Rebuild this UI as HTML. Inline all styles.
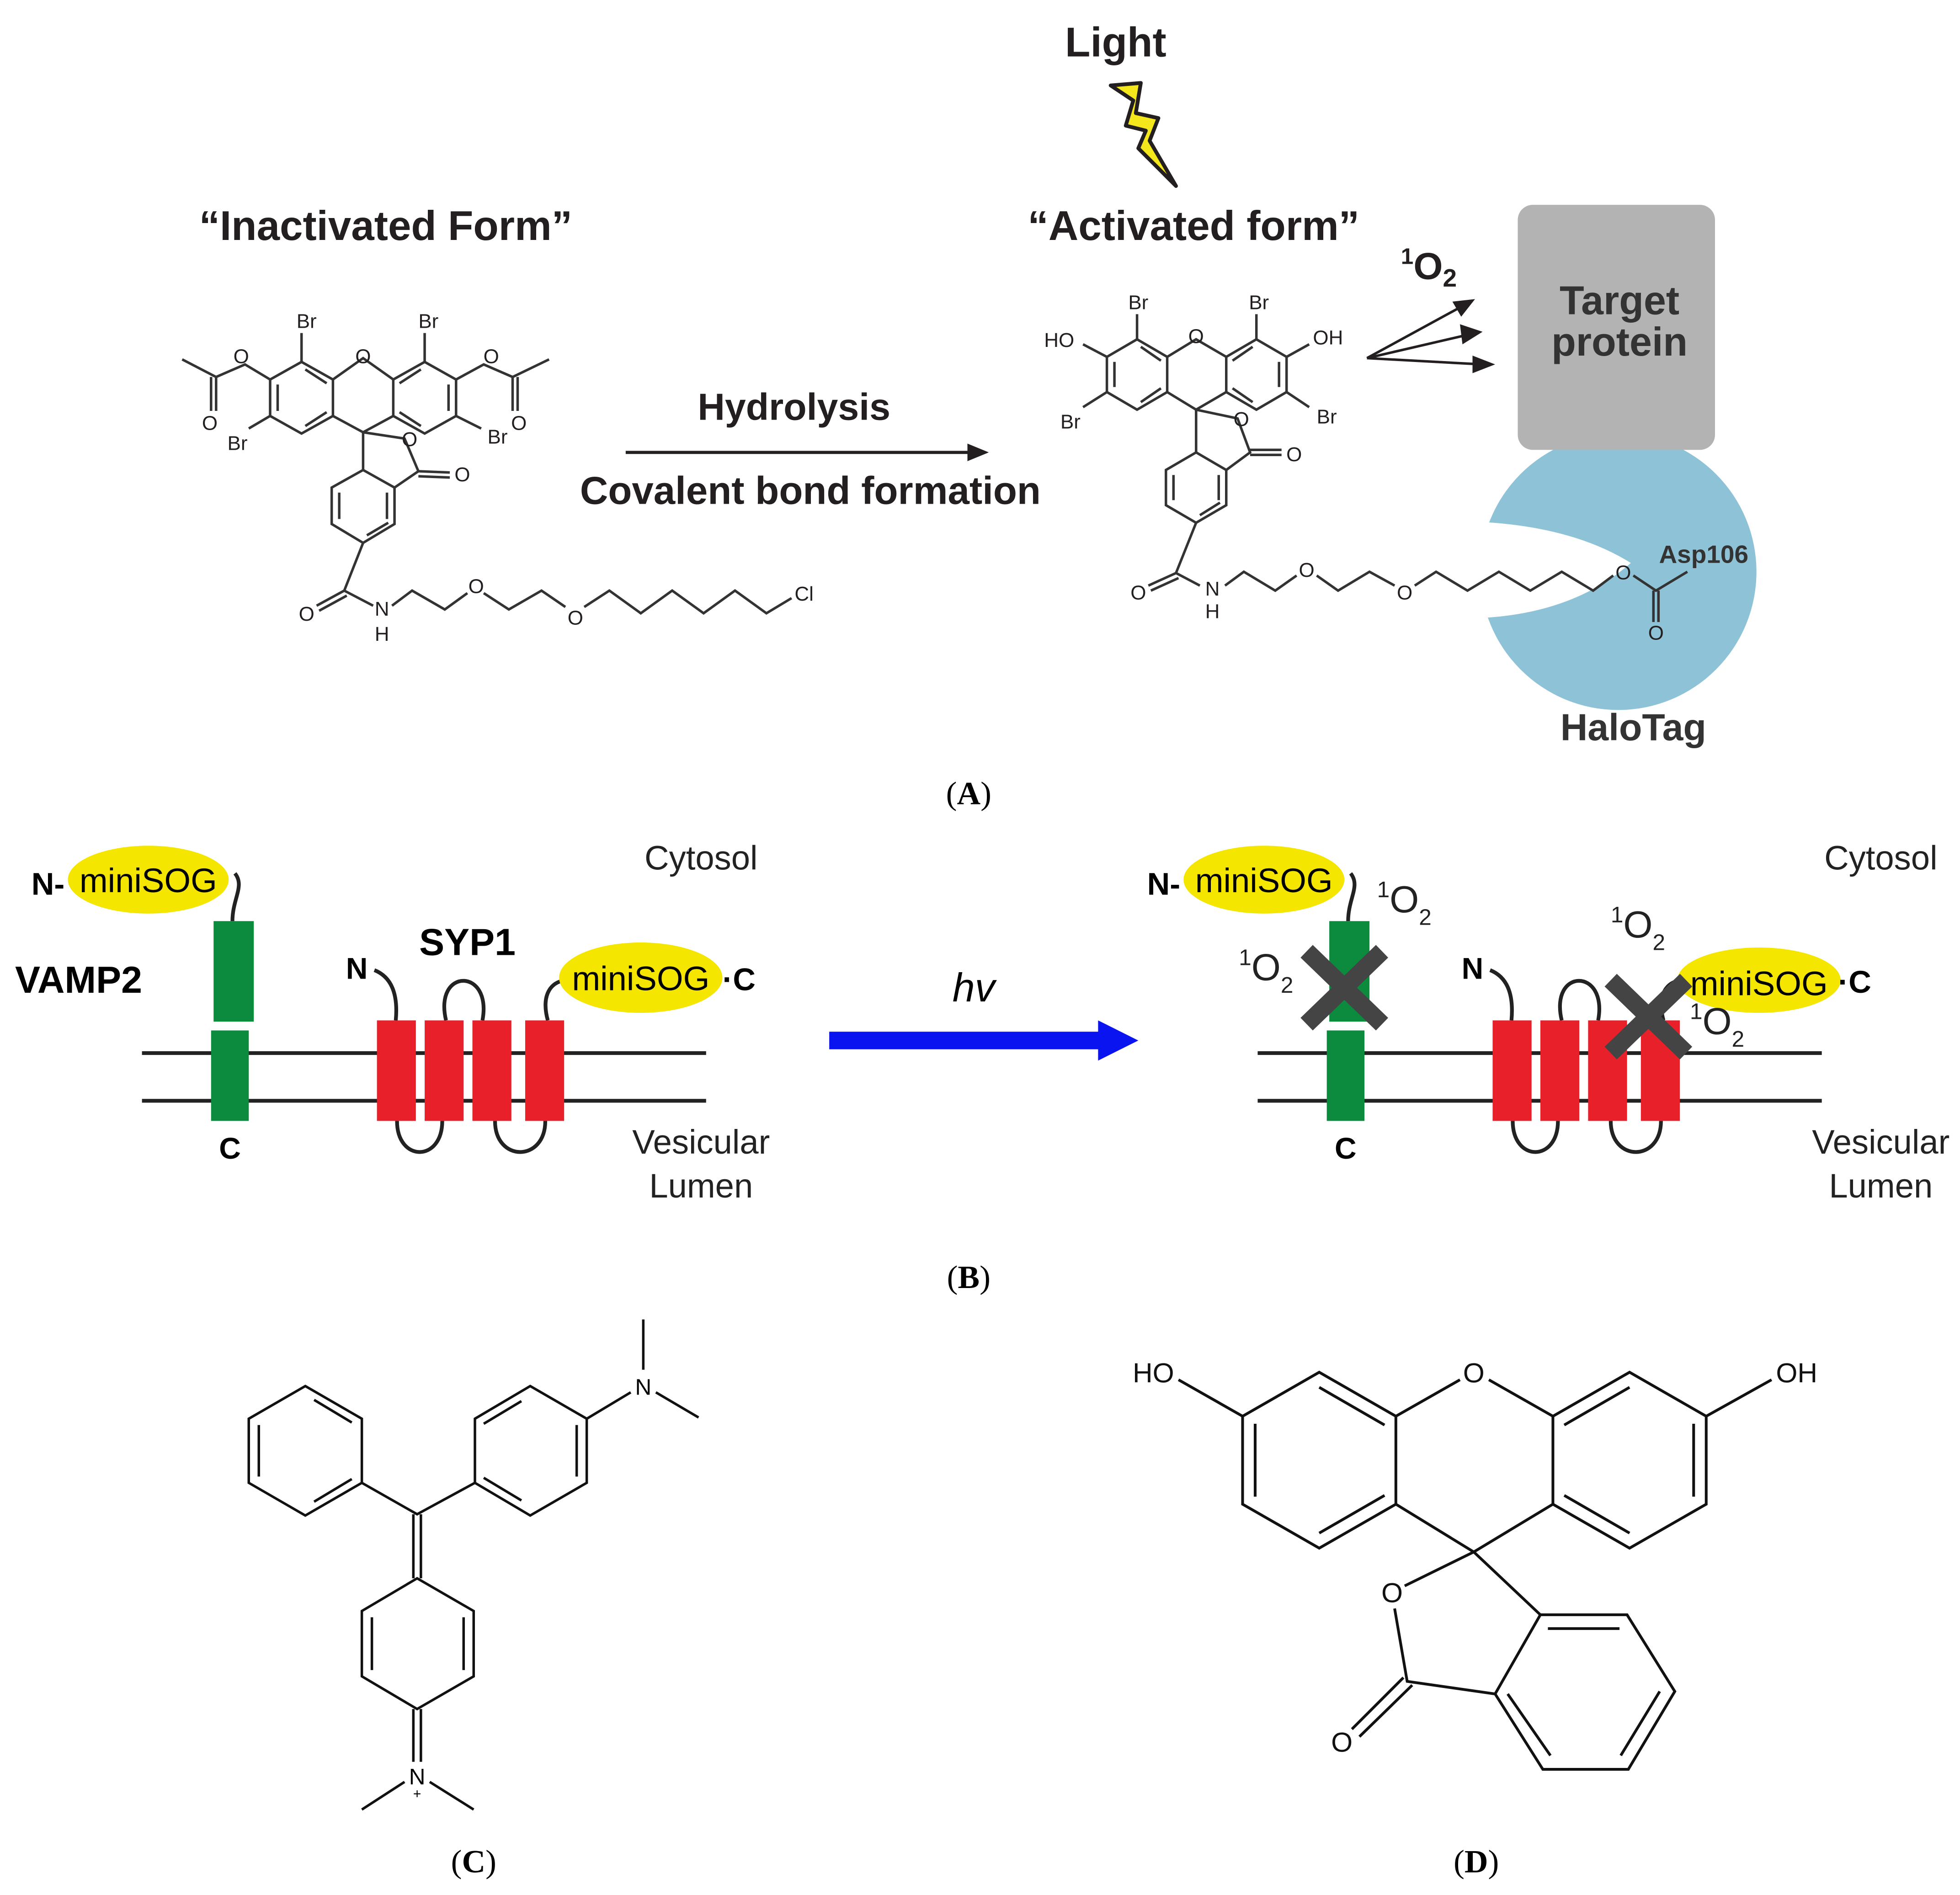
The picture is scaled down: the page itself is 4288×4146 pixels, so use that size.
<!DOCTYPE html>
<html><head><meta charset="utf-8">
<style>
html,body{margin:0;padding:0;background:#fff;}
svg{display:block;}
text{font-family:"Liberation Sans",sans-serif;}
.b{font-weight:bold;}
.s{font-family:"Liberation Serif",serif;}
</style></head>
<body>
<svg width="4288" height="4146" viewBox="0 0 1560 1508" preserveAspectRatio="none" xmlns="http://www.w3.org/2000/svg">
<rect width="1560" height="1508" fill="#fff"/>

<!-- ============ PANEL A ============ -->
<text x="888" y="45" font-size="33" class="b" text-anchor="middle" fill="#231f20">Light</text>
<polygon points="884,68 908,66 904,90 922,94 915,112 936,148 906,118 912,104 896,100 902,80" fill="#f4e81c" stroke="#231f20" stroke-width="3" stroke-linejoin="round"/>
<text x="307" y="191" font-size="33" class="b" text-anchor="middle" fill="#231f20">“Inactivated Form”</text>
<text x="950" y="191" font-size="33" class="b" text-anchor="middle" fill="#231f20">“Activated form”</text>

<text x="632" y="334" font-size="30" class="b" text-anchor="middle" fill="#231f20">Hydrolysis</text>
<line x1="498" y1="360" x2="775" y2="360" stroke="#231f20" stroke-width="2.5"/>
<polygon points="787,360 770,353 770,367" fill="#231f20"/>
<text x="645" y="401" font-size="31" class="b" text-anchor="middle" fill="#231f20">Covalent bond formation</text>

<!-- left molecule -->
<g stroke="#333" stroke-width="2" fill="none">
<polygon points="240,288 265,302 265,331 240,345 215,331 215,302"/>
<line x1="221" y1="306" x2="221" y2="327"/><line x1="243" y1="294" x2="260" y2="305"/><line x1="243" y1="339" x2="260" y2="328"/>
<polygon points="338,288 363,302 363,331 338,345 313,331 313,302"/>
<line x1="357" y1="306" x2="357" y2="327"/><line x1="335" y1="294" x2="318" y2="305"/><line x1="335" y1="339" x2="318" y2="328"/>
<polyline points="265,302 289,285 313,302"/>
<polyline points="265,331 289,344 313,331"/>
<polygon points="289,374 314,388 314,417 289,432 264,417 264,388"/>
<line x1="270" y1="392" x2="270" y2="413"/><line x1="308" y1="392" x2="308" y2="413"/><line x1="292" y1="426" x2="309" y2="416"/>
<polyline points="289,344 289,374"/>
<polyline points="289,344 322,349 333,375 314,388"/>
<line x1="333" y1="375" x2="358" y2="376"/><line x1="333" y1="379" x2="358" y2="380"/>
<line x1="240" y1="288" x2="240" y2="265"/><line x1="338" y1="288" x2="338" y2="265"/>
<line x1="215" y1="331" x2="198" y2="341"/><line x1="363" y1="331" x2="383" y2="341"/>
<polyline points="215,302 195,290 172,300 145,286"/>
<line x1="172" y1="300" x2="172" y2="327"/><line x1="168" y1="300" x2="168" y2="327"/>
<polyline points="363,302 385,290 408,300 437,286"/>
<line x1="408" y1="300" x2="408" y2="327"/><line x1="412" y1="300" x2="412" y2="327"/>
<polyline points="289,432 274,470 297,482"/>
<line x1="274" y1="470" x2="252" y2="482"/><line x1="276" y1="474" x2="254" y2="486"/>
<polyline points="312,482 328,470 354,485 372,472"/>
<polyline points="385,472 405,485 431,470 450,483"/>
<polyline points="465,483 485,470 510,488 535,470 560,488 585,470 610,488 630,476"/>
</g>
<g font-size="16" fill="#231f20">
<text x="244" y="261" text-anchor="middle">Br</text><text x="341" y="261" text-anchor="middle">Br</text>
<text x="189" y="358" text-anchor="middle">Br</text><text x="396" y="353" text-anchor="middle">Br</text>
<text x="289" y="289" text-anchor="middle">O</text>
<text x="192" y="289" text-anchor="middle">O</text><text x="391" y="289" text-anchor="middle">O</text>
<text x="167" y="342" text-anchor="middle">O</text><text x="413" y="342" text-anchor="middle">O</text>
<text x="326" y="355" text-anchor="middle">O</text><text x="368" y="383" text-anchor="middle">O</text>
<text x="244" y="494" text-anchor="middle">O</text>
<text x="304" y="490" text-anchor="middle">N</text><text x="304" y="510" text-anchor="middle">H</text>
<text x="379" y="472" text-anchor="middle">O</text><text x="458" y="497" text-anchor="middle">O</text>
<text x="640" y="478" text-anchor="middle">Cl</text>
</g>

<!-- HaloTag -->
<circle cx="1288" cy="455" r="110" fill="#8ec3d7"/>
<path d="M1172,415 Q1250,418 1298,448 Q1250,490 1172,492 Z" fill="#fff"/>
<rect x="1208" y="163" width="157" height="195" rx="12" fill="#b3b3b3"/>
<text x="1289" y="250" font-size="32" class="b" text-anchor="middle" fill="#333">Target</text>
<text x="1289" y="283" font-size="32" class="b" text-anchor="middle" fill="#333">protein</text>
<text x="1356" y="448" font-size="20" class="b" text-anchor="middle" fill="#333">Asp106</text>
<text x="1300" y="589" font-size="30" class="b" text-anchor="middle" fill="#333">HaloTag</text>

<!-- right molecule -->
<g stroke="#333" stroke-width="2" fill="none">
<polygon points="905,270 929,284 929,312 905,326 881,312 881,284"/>
<line x1="887" y1="288" x2="887" y2="308"/><line x1="908" y1="276" x2="924" y2="287"/><line x1="908" y1="320" x2="924" y2="309"/>
<polygon points="1000,270 1024,284 1024,312 1000,326 976,312 976,284"/>
<line x1="1018" y1="288" x2="1018" y2="308"/><line x1="997" y1="276" x2="981" y2="287"/><line x1="997" y1="320" x2="981" y2="309"/>
<polyline points="929,284 952,270 976,284"/>
<polyline points="929,312 952,326 976,312"/>
<polygon points="952,360 976,374 976,402 952,416 928,402 928,374"/>
<line x1="934" y1="378" x2="934" y2="398"/><line x1="970" y1="378" x2="970" y2="398"/><line x1="955" y1="410" x2="971" y2="400"/>
<line x1="952" y1="326" x2="952" y2="360"/>
<polyline points="952,326 985,333 995,360 976,374"/>
<line x1="995" y1="358" x2="1020" y2="358"/><line x1="995" y1="362" x2="1020" y2="362"/>
<line x1="905" y1="270" x2="905" y2="250"/><line x1="1000" y1="270" x2="1000" y2="250"/>
<line x1="881" y1="284" x2="862" y2="274"/><line x1="1024" y1="284" x2="1042" y2="274"/>
<line x1="881" y1="312" x2="862" y2="324"/><line x1="1024" y1="312" x2="1042" y2="324"/>
<polyline points="952,416 936,456 955,466"/>
<line x1="936" y1="456" x2="914" y2="466"/><line x1="938" y1="460" x2="916" y2="470"/>
<polyline points="975,466 990,455 1015,470 1032,458"/>
<polyline points="1048,458 1065,470 1090,455 1110,466"/>
<polyline points="1126,466 1143,455 1168,470 1193,455 1218,470 1243,455 1268,470 1284,458"/>
<polyline points="1300,458 1318,470 1343,455"/>
<line x1="1316" y1="470" x2="1316" y2="495"/><line x1="1320" y1="470" x2="1320" y2="495"/>
</g>
<g font-size="16" fill="#231f20">
<text x="906" y="246" text-anchor="middle">Br</text><text x="1002" y="246" text-anchor="middle">Br</text>
<text x="843" y="276" text-anchor="middle">HO</text><text x="1057" y="274" text-anchor="middle">OH</text>
<text x="852" y="341" text-anchor="middle">Br</text><text x="1056" y="337" text-anchor="middle">Br</text>
<text x="952" y="273" text-anchor="middle">O</text>
<text x="988" y="339" text-anchor="middle">O</text><text x="1030" y="367" text-anchor="middle">O</text>
<text x="906" y="477" text-anchor="middle">O</text>
<text x="965" y="474" text-anchor="middle">N</text><text x="965" y="492" text-anchor="middle">H</text>
<text x="1040" y="459" text-anchor="middle">O</text><text x="1118" y="477" text-anchor="middle">O</text>
<text x="1292" y="461" text-anchor="middle">O</text>
<text x="1318" y="509" text-anchor="middle">O</text>
</g>

<!-- 1O2 + arrows -->
<text x="1115" y="222" font-size="30" class="b" fill="#231f20"><tspan font-size="18" dy="-12">1</tspan><tspan dy="12">O</tspan><tspan font-size="20" dy="6">2</tspan></text>
<g stroke="#231f20" stroke-width="2">
<line x1="1088" y1="285" x2="1165" y2="243"/>
<line x1="1088" y1="285" x2="1170" y2="266"/>
<line x1="1088" y1="285" x2="1180" y2="290"/>
</g>
<polygon points="1174,238 1156,240 1163,252" fill="#231f20"/>
<polygon points="1180,264 1162,258 1164,274" fill="#231f20"/>
<polygon points="1190,290 1172,283 1172,297" fill="#231f20"/>

<text x="771" y="640" font-size="26" class="s" text-anchor="middle">(<tspan font-weight="bold">A</tspan>)</text>

<!-- ============ PANEL B ============ -->
<g id="bl">
<line x1="113" y1="838" x2="562" y2="838" stroke="#222" stroke-width="3"/>
<line x1="113" y1="876" x2="562" y2="876" stroke="#222" stroke-width="3"/>
<g fill="none" stroke="#222" stroke-width="3">
<path d="M185,733 C185,715 195,705 187,695"/>
<path d="M298,772 Q318,780 315,812"/>
<path d="M355,812 C345,770 392,770 384,812"/>
<path d="M436,812 C430,790 440,780 452,780"/>
<path d="M316,892 C316,925 352,925 352,892"/>
<path d="M394,892 C394,925 434,925 434,892"/>
</g>
<rect x="170" y="733" width="32" height="80" fill="#0c8a3e"/>
<rect x="168" y="820" width="30" height="72" fill="#0c8a3e"/>
<rect x="300" y="812" width="31" height="80" fill="#e8202a"/>
<rect x="338" y="812" width="31" height="80" fill="#e8202a"/>
<rect x="376" y="812" width="31" height="80" fill="#e8202a"/>
<rect x="418" y="812" width="31" height="80" fill="#e8202a"/>
<text x="183" y="922" font-size="24" class="b" text-anchor="middle">C</text>
<text x="284" y="779" font-size="24" class="b" text-anchor="middle">N</text>
</g>
<g font-size="27" text-anchor="middle" fill="#222">
<text x="558" y="692">Cytosol</text>
<text x="558" y="918">Vesicular</text>
<text x="558" y="953">Lumen</text>
<text x="1497" y="692">Cytosol</text>
<text x="1497" y="918">Vesicular</text>
<text x="1497" y="953">Lumen</text>
</g>
<ellipse cx="118" cy="700" rx="64" ry="27" fill="#f5e600"/>
<text x="25" y="712" font-size="25" class="b">N-</text>
<text x="118" y="710" font-size="27" text-anchor="middle">miniSOG</text>
<text x="12" y="790" font-size="30" class="b">VAMP2</text>
<text x="372" y="760" font-size="30" class="b" text-anchor="middle">SYP1</text>
<ellipse cx="510" cy="778" rx="65" ry="28" fill="#f5e600"/>
<text x="510" y="788" font-size="27" text-anchor="middle">miniSOG</text>
<text x="575" y="788" font-size="25" class="b">·C</text>

<!-- arrow hv -->
<rect x="660" y="821" width="220" height="14" fill="#0a14f0"/>
<polygon points="906,828 874,812 874,844" fill="#0a14f0"/>
<text x="775" y="797" font-size="32" font-style="italic" text-anchor="middle">hv</text>

<!-- right B -->
<use href="#bl" transform="translate(888,0)"/>
<ellipse cx="1006" cy="700" rx="64" ry="27" fill="#f5e600"/>
<text x="913" y="712" font-size="25" class="b">N-</text>
<text x="1006" y="710" font-size="27" text-anchor="middle">miniSOG</text>
<ellipse cx="1400" cy="780" rx="65" ry="26" fill="#f5e600"/>
<text x="1400" y="792" font-size="27" text-anchor="middle">miniSOG</text>
<text x="1463" y="790" font-size="25" class="b">·C</text>
<g stroke="#444" stroke-width="14" stroke-linecap="butt">
<line x1="1040" y1="757" x2="1100" y2="815"/><line x1="1100" y1="757" x2="1040" y2="815"/>
<line x1="1282" y1="780" x2="1342" y2="838"/><line x1="1342" y1="780" x2="1282" y2="838"/>
</g>
<g font-size="30" fill="#222">
<text x="1096" y="726"><tspan font-size="18" dy="-12">1</tspan><tspan dy="12">O</tspan><tspan font-size="18" dy="10">2</tspan></text>
<text x="986" y="780"><tspan font-size="18" dy="-12">1</tspan><tspan dy="12">O</tspan><tspan font-size="18" dy="10">2</tspan></text>
<text x="1282" y="746"><tspan font-size="18" dy="-12">1</tspan><tspan dy="12">O</tspan><tspan font-size="18" dy="10">2</tspan></text>
<text x="1345" y="823"><tspan font-size="18" dy="-12">1</tspan><tspan dy="12">O</tspan><tspan font-size="18" dy="10">2</tspan></text>
</g>

<text x="771" y="1025" font-size="26" class="s" text-anchor="middle">(<tspan font-weight="bold">B</tspan>)</text>

<!-- ============ PANEL C ============ -->
<g stroke="#111" stroke-width="2" fill="none">
<polygon points="243,1103 288,1129 288,1180 243,1206 198,1180 198,1129"/>
<line x1="206" y1="1134" x2="206" y2="1175"/><line x1="250" y1="1114" x2="280" y2="1132"/><line x1="250" y1="1195" x2="280" y2="1177"/>
<polygon points="422,1103 467,1129 467,1180 422,1206 378,1180 378,1129"/>
<line x1="459" y1="1134" x2="459" y2="1175"/><line x1="385" y1="1133" x2="415" y2="1115"/><line x1="385" y1="1176" x2="415" y2="1194"/>
<polyline points="288,1180 332,1205 378,1180"/>
<line x1="329" y1="1205" x2="329" y2="1256"/><line x1="335" y1="1205" x2="335" y2="1256"/>
<polygon points="332,1256 377,1282 377,1334 332,1360 288,1334 288,1282"/>
<line x1="296" y1="1287" x2="296" y2="1329"/><line x1="369" y1="1287" x2="369" y2="1329"/>
<line x1="329" y1="1360" x2="329" y2="1402"/><line x1="335" y1="1360" x2="335" y2="1402"/>
<line x1="322" y1="1418" x2="288" y2="1440"/><line x1="342" y1="1418" x2="377" y2="1440"/>
<line x1="467" y1="1129" x2="502" y2="1108"/>
<line x1="512" y1="1090" x2="512" y2="1050"/><line x1="522" y1="1108" x2="556" y2="1128"/>
</g>
<text x="512" y="1110" font-size="18" text-anchor="middle">N</text>
<text x="332" y="1420" font-size="18" text-anchor="middle">N</text>
<text x="332" y="1431" font-size="11" text-anchor="middle">+</text>
<text x="377" y="1490" font-size="26" class="s" text-anchor="middle">(<tspan font-weight="bold">C</tspan>)</text>

<!-- ============ PANEL D ============ -->
<g stroke="#111" stroke-width="2.2" fill="none">
<polygon points="1050,1092 1111,1127 1111,1197 1050,1232 989,1197 989,1127"/>
<line x1="999" y1="1133" x2="999" y2="1191"/><line x1="1050" y1="1104" x2="1102" y2="1134"/><line x1="1050" y1="1220" x2="1102" y2="1190"/>
<polygon points="1297,1092 1358,1127 1358,1197 1297,1232 1236,1197 1236,1127"/>
<line x1="1348" y1="1133" x2="1348" y2="1191"/><line x1="1297" y1="1104" x2="1245" y2="1134"/><line x1="1297" y1="1220" x2="1245" y2="1190"/>
<polyline points="1111,1127 1162,1098"/><polyline points="1185,1098 1236,1127"/>
<polyline points="1111,1197 1173,1235 1236,1197"/>
<line x1="989" y1="1127" x2="938" y2="1098"/><line x1="1358" y1="1127" x2="1410" y2="1098"/>
<polygon points="1226,1285 1295,1285 1333,1346 1296,1408 1228,1408 1190,1348"/>
<line x1="1232" y1="1296" x2="1289" y2="1296"/><line x1="1321" y1="1346" x2="1290" y2="1397"/><line x1="1234" y1="1397" x2="1200" y2="1348"/>
<polyline points="1173,1235 1226,1285"/>
<polyline points="1173,1235 1118,1262"/>
<polyline points="1110,1280 1120,1338 1190,1348"/>
<line x1="1117" y1="1335" x2="1076" y2="1376"/><line x1="1124" y1="1341" x2="1082" y2="1382"/>
</g>
<g font-size="22" fill="#111">
<text x="1173" y="1100" text-anchor="middle">O</text>
<text x="918" y="1100" text-anchor="middle">HO</text>
<text x="1430" y="1100" text-anchor="middle">OH</text>
<text x="1108" y="1275" text-anchor="middle">O</text>
<text x="1068" y="1394" text-anchor="middle">O</text>
</g>
<text x="1175" y="1490" font-size="26" class="s" text-anchor="middle">(<tspan font-weight="bold">D</tspan>)</text>
</svg>
</body></html>
